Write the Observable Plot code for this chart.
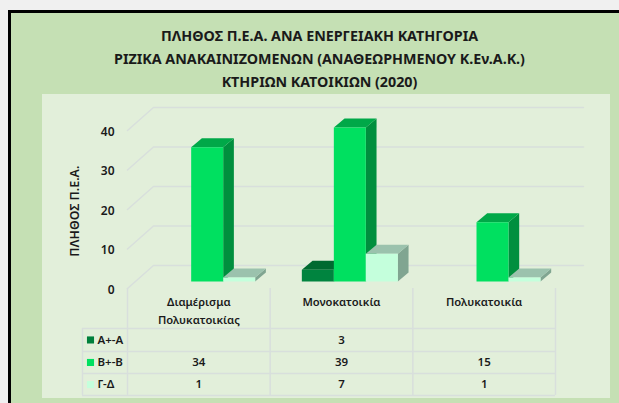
<!DOCTYPE html>
<html lang="el">
<head>
<meta charset="utf-8">
<script src="https://cdn.jsdelivr.net/npm/d3@7"></script>
<script src="https://cdn.jsdelivr.net/npm/@observablehq/plot@0.6"></script>
<style>
  html, body { margin: 0; padding: 0; background: #f0f0f0; overflow: hidden; }
  body { width: 619px; height: 403px; position: relative; font-family: "Noto Sans", sans-serif; color: #1a1a1a; }
  #frame { position: absolute; left: 8px; top: 10px; width: 611px; height: 393px; box-sizing: border-box;
           border-left: 3px solid #000; border-top: 3px solid #000; background: #c5e0b4; }
  #panel { position: absolute; left: 42px; top: 94px; width: 568px; height: 304px; background: #e2efda; }
  #title { position: absolute; left: 0; top: 24px; width: 639px; text-align: center; font-weight: 700;
           font-size: 14.3px; line-height: 23px; white-space: nowrap; }
  #chart { position: absolute; left: 0; top: 94px; }
  #chart svg { overflow: visible; background: transparent; }
</style>
</head>
<body>
<div id="frame"></div>
<div id="panel"></div>
<div id="title">ΠΛΗΘΟΣ Π.Ε.Α. ΑΝΑ ΕΝΕΡΓΕΙΑΚΗ ΚΑΤΗΓΟΡΙΑ<br>ΡΙΖΙΚΑ ΑΝΑΚΑΙΝΙΖΟΜΕΝΩΝ (ΑΝΑΘΕΩΡΗΜΕΝΟΥ Κ.Εν.Α.Κ.)<br>ΚΤΗΡΙΩΝ ΚΑΤΟΙΚΙΩΝ (2020)</div>
<div id="chart"></div>
<script>
const categories = ["Διαμέρισμα\nΠολυκατοικίας", "Μονοκατοικία", "Πολυκατοικία"];
const seriesNames = ["Α+-Α", "Β+-Β", "Γ-Δ"];
const valuesA = [null, 3, null];
const valuesB = [34, 39, 15];
const valuesC = [1, 7, 1];
const yTicks = [0, 10, 20, 30, 40];
const yLabel = "ΠΛΗΘΟΣ Π.Ε.Α.";

const seriesValues = [valuesA, valuesB, valuesC];
const faces = [
  {front: "#00843f", top: "#006a30", side: "#006a32", key: "#00803c"},
  {front: "#00e060", top: "#00a848", side: "#008f3e", key: "#00e060"},
  {front: "#c4ffdc", top: "#9bc2ad", side: "#80a591", key: "#c4ffdc"}
];

// Oblique-projection geometry, in scale units
const barStart = 0.222, barW = 0.2243, depthX = 0.075, depthY = 2.28;
const wallX = 0.182, wallEnd = 3.196, wallBack = 4.05, wallFront = -1.77;
// Table rows, in y-scale units below the baseline
const rowLines = [-11.9, -17.7, -23.3, -28.85];
const rowMids = [-14.8, -20.5, -26.1];
const headerY = -2.9, tableTop = wallFront, keyDx = -37, keyTextDx = -30;
const gridColor = "#d8dfdc";

const polys = [];
seriesValues.forEach((vals, s) => vals.forEach((v, c) => {
  if (v == null) return;
  const x0 = c + barStart + s * barW, x1 = x0 + barW;
  const add = (face, pts) => pts.forEach(([x, y]) => polys.push({id: `${s}-${c}-${face}`, x, y, fill: faces[s][face]}));
  add("side", [[x1, 0], [x1 + depthX, depthY], [x1 + depthX, v + depthY], [x1, v], [x1, 0]]);
  add("top", [[x0, v], [x0 + depthX, v + depthY], [x1 + depthX, v + depthY], [x1, v], [x0, v]]);
  add("front", [[x0, 0], [x1, 0], [x1, v], [x0, v], [x0, 0]]);
}));

const wallLines = yTicks.flatMap(v => [
  {id: v, x: 0, y: v + wallFront},
  {id: v, x: wallX, y: v + wallBack},
  {id: v, x: wallEnd, y: v + wallBack}
]);

const cells = seriesValues.flatMap((vals, s) => vals.map((v, c) => ({c, s, v}))).filter(d => d.v != null);

const chart = Plot.plot({
  width: 619, height: 309,
  marginLeft: 127, marginRight: 64, marginTop: 29, marginBottom: 122,
  style: {fontFamily: '"Noto Sans", sans-serif', background: "transparent", color: "#1a1a1a"},
  x: {domain: [0, categories.length], axis: null},
  y: {domain: [0, 40]},
  color: {type: "identity"},
  marks: [
    Plot.line(wallLines, {x: "x", y: "y", z: "id", stroke: gridColor, strokeWidth: 1.5}),
    Plot.ruleX(d3.range(categories.length + 1), {y1: tableTop, y2: rowLines[3], stroke: gridColor, strokeWidth: 1.5}),
    Plot.ruleX([0], {y1: rowLines[0], y2: rowLines[3], dx: -45, stroke: gridColor, strokeWidth: 1.5}),
    Plot.ruleY(rowLines, {x1: 0, x2: categories.length, stroke: gridColor, strokeWidth: 1.5}),
    Plot.ruleY(rowLines, {x1: -45 / 142.67, x2: 0, stroke: gridColor, strokeWidth: 1.5}),
    Plot.line(polys, {x: "x", y: "y", z: "id", fill: "fill", stroke: "none"}),
    Plot.axisY({ticks: yTicks, anchor: "left", tickSize: 0, tickPadding: 13, dy: 8.5, fontSize: 12, fontWeight: 600, label: null}),
    Plot.text([yLabel], {frameAnchor: "left", y: 17.8, dx: -52, rotate: -90, textAnchor: "middle", text: d => d, fontSize: 12.4, fontWeight: 600}),
    Plot.text(categories, {x: (d, i) => i + 0.5, y: headerY, text: d => d, fontSize: 11.2, fontWeight: 600, lineHeight: 1.6, lineAnchor: "top"}),
    Plot.dot(seriesNames, {frameAnchor: "left", y: (d, i) => rowMids[i], dx: keyDx, symbol: "square", r: 4, stroke: "none", fill: (d, i) => faces[i].key}),
    Plot.text(seriesNames, {frameAnchor: "left", y: (d, i) => rowMids[i], text: d => d, dx: keyTextDx, textAnchor: "start", fontSize: 11.5, fontWeight: 600}),
    Plot.text(cells, {x: d => d.c + 0.5, y: d => rowMids[d.s], text: d => String(d.v), fontSize: 11.5, fontWeight: 600})
  ]
});
document.getElementById("chart").appendChild(chart);
</script>
</body>
</html>
